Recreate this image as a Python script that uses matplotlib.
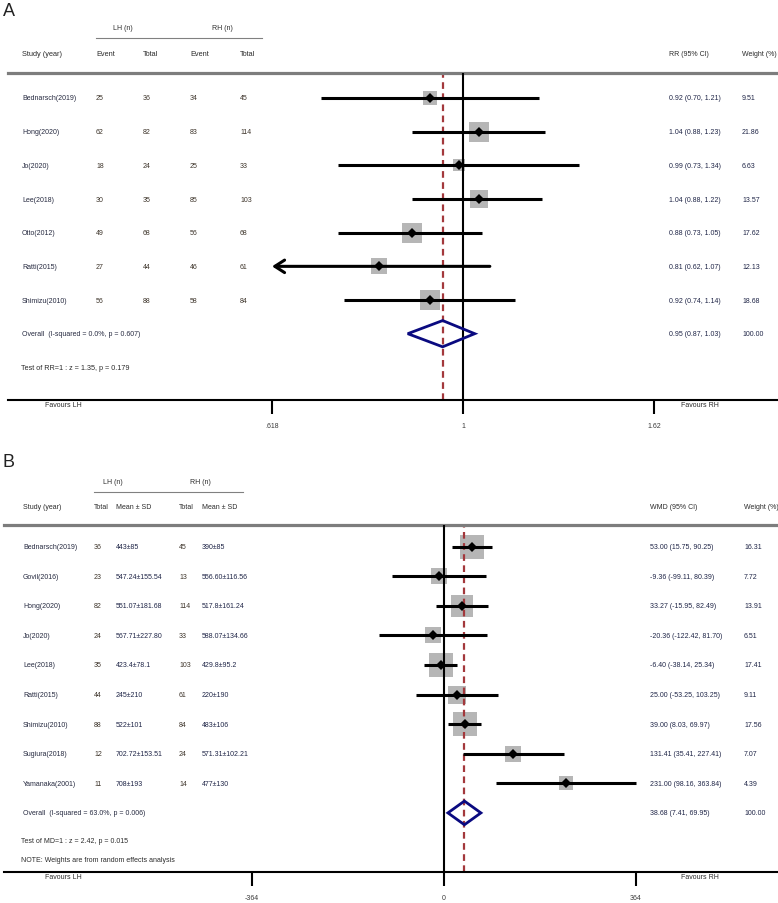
import matplotlib
matplotlib.use('Agg')
import matplotlib.pyplot as plt
import matplotlib.transforms as mtransforms
from matplotlib.patches import Polygon
from matplotlib.lines import Line2D
from matplotlib.ticker import NullLocator
import numpy as np

# ---------------- data: panel A ----------------
studies_a = ['Bednarsch(2019)', 'Hong(2020)', 'Jo(2020)', 'Lee(2018)',
             'Otto(2012)', 'Ratti(2015)', 'Shimizu(2010)']
lh_event_a = [25, 62, 18, 30, 49, 27, 56]
lh_total_a = [36, 82, 24, 35, 68, 44, 88]
rh_event_a = [34, 83, 25, 85, 56, 46, 58]
rh_total_a = [45, 114, 33, 103, 68, 61, 84]
rr_a = [0.92, 1.04, 0.99, 1.04, 0.88, 0.81, 0.92]
rr_lo_a = [0.70, 0.88, 0.73, 0.88, 0.73, 0.62, 0.74]
rr_hi_a = [1.21, 1.23, 1.34, 1.22, 1.05, 1.07, 1.14]
weight_a = [9.51, 21.86, 6.63, 13.57, 17.62, 12.13, 18.68]
overall_a = [0.95, 0.87, 1.03]
ticks_a = [0.618, 1, 1.62]
tick_labels_a = ['.618', '1', '1.62']
overall_text_a = 'Overall  (I-squared = 0.0%, p = 0.607)'
test_text_a = 'Test of RR=1 : z = 1.35, p = 0.179'

# ---------------- data: panel B ----------------
studies_b = ['Bednarsch(2019)', 'Govil(2016)', 'Hong(2020)', 'Jo(2020)', 'Lee(2018)',
             'Ratti(2015)', 'Shimizu(2010)', 'Sugiura(2018)', 'Yamanaka(2001)']
lh_total_b = [36, 23, 82, 24, 35, 44, 88, 12, 11]
lh_meansd_b = ['443±85', '547.24±155.54', '551.07±181.68', '567.71±227.80', '423.4±78.1',
               '245±210', '522±101', '702.72±153.51', '708±193']
rh_total_b = [45, 13, 114, 33, 103, 61, 84, 24, 14]
rh_meansd_b = ['390±85', '556.60±116.56', '517.8±161.24', '588.07±134.66', '429.8±95.2',
               '220±190', '483±106', '571.31±102.21', '477±130']
wmd_b = [53.00, -9.36, 33.27, -20.36, -6.40, 25.00, 39.00, 131.41, 231.00]
wmd_lo_b = [15.75, -99.11, -15.95, -122.42, -38.14, -53.25, 8.03, 35.41, 98.16]
wmd_hi_b = [90.25, 80.39, 82.49, 81.70, 25.34, 103.25, 69.97, 227.41, 363.84]
weight_b = [16.31, 7.72, 13.91, 6.51, 17.41, 9.11, 17.56, 7.07, 4.39]
overall_b = [38.68, 7.41, 69.95]
ticks_b = [-364, 0, 364]
tick_labels_b = ['-364', '0', '364']
overall_text_b = 'Overall  (I-squared = 63.0%, p = 0.006)'
test_text_b = 'Test of MD=1 : z = 2.42, p = 0.015'
note_text_b = 'NOTE: Weights are from random effects analysis'

# ---------------- figure helpers ----------------
W, H = 778, 904
fig = plt.figure(figsize=(W / 100, H / 100), dpi=100)

REG = ['Liberation Sans', 'DejaVu Sans']
NAR = ['Liberation Sans Narrow', 'Liberation Sans', 'DejaVu Sans']
C_TXT = '#2b2b2b'
C_NAME = '#262a40'
C_NUM = '#3d342a'
C_CI = '#1f2547'
GRAY_BOX = '#b6b6b6'
NAVY = '#0a0a80'
RED = '#a3383c'


def fx(px):
    return px / W


def fy(py):
    return 1 - py / H


def ftext(x, y, s, size=5.0, fam=REG, color=C_TXT, ha='left', va='center'):
    fig.text(fx(x), fy(y), s, fontsize=size, family=fam, color=color, ha=ha, va=va)


def make_axes(left, right, top, bottom):
    return fig.add_axes([fx(left), fy(bottom), fx(right - left), (bottom - top) / H])


def style_axes(ax, ticks, labels):
    ax.spines['left'].set_visible(False)
    ax.spines['right'].set_visible(False)
    ax.spines['top'].set_color('#7d7d7d')
    ax.spines['top'].set_linewidth(2.3)
    ax.spines['bottom'].set_color('black')
    ax.spines['bottom'].set_linewidth(1.5)
    ax.set_yticks([])
    ax.set_xticks(ticks, labels=labels)
    ax.xaxis.set_minor_locator(NullLocator())
    ax.tick_params(axis='x', length=10, width=1.5, pad=6, labelsize=5,
                   labelcolor='#3a3a3a', direction='out')
    for t in ax.get_xticklabels():
        t.set_family(REG)
    ax.patch.set_alpha(0)


# ======================= PANEL A =======================
axA = make_axes(8, 778, 74, 401)
axA.set_xscale('log')
# 1 -> px 463, 396.8 px per ln unit
axA.set_xlim(np.exp((8 - 463) / 396.8), np.exp((778 - 463) / 396.8))
row0, step = 99, 33.67
axA.set_ylim((401 - row0) / step, (74 - row0) / step)
style_axes(axA, ticks_a, tick_labels_a)

axA.axvline(1, color='black', lw=1.5, zorder=2.6)
axA.axvline(overall_a[0], color=RED, lw=1.6, ls=(0, (3, 2)), zorder=2.5)

xmin_tick = min(ticks_a)
for i in range(len(studies_a)):
    side_px = 3.2 + 3.8 * np.sqrt(weight_a[i])
    axA.scatter([rr_a[i]], [i], s=(side_px * 0.72) ** 2, marker='s', color=GRAY_BOX,
                linewidths=0, zorder=2)
    if rr_lo_a[i] < xmin_tick + 0.005:
        axA.annotate('', xy=(xmin_tick, i), xytext=(rr_hi_a[i], i),
                     arrowprops=dict(arrowstyle='->,head_length=0.7,head_width=0.45',
                                     lw=2.2, color='black', shrinkA=0, shrinkB=0),
                     zorder=3)
    else:
        axA.plot([rr_lo_a[i], rr_hi_a[i]], [i, i], color='black', lw=2.2,
                 solid_capstyle='butt', zorder=3)
    axA.plot([rr_a[i]], [i], marker='D', ms=4.6, color='black', mew=0, zorder=4)

yo = len(studies_a)
est, lo, hi = overall_a
axA.add_patch(Polygon([(lo, yo), (est, yo - 0.39), (hi, yo), (est, yo + 0.39)],
                      closed=True, facecolor='none', edgecolor=NAVY, lw=2.0, zorder=3))

trA = mtransforms.blended_transform_factory(fig.transFigure, axA.transData)
for i in range(len(studies_a)):
    axA.text(fx(22), i, studies_a[i], transform=trA, fontsize=5, family=REG,
             color=C_NAME, va='center')
    for xp, v in zip([96, 143, 190, 240],
                     [lh_event_a[i], lh_total_a[i], rh_event_a[i], rh_total_a[i]]):
        axA.text(fx(xp), i, str(v), transform=trA, fontsize=5, family=REG,
                 color=C_NUM, va='center')
    axA.text(fx(669), i, f'{rr_a[i]:.2f} ({rr_lo_a[i]:.2f}, {rr_hi_a[i]:.2f})',
             transform=trA, fontsize=5, family=REG, color=C_CI, va='center')
    axA.text(fx(742), i, f'{weight_a[i]:.2f}', transform=trA, fontsize=5, family=REG,
             color=C_CI, va='center')
axA.text(fx(22), yo, overall_text_a, transform=trA, fontsize=5, family=REG,
         color=C_NAME, va='center')
axA.text(fx(669), yo, f'{overall_a[0]:.2f} ({overall_a[1]:.2f}, {overall_a[2]:.2f})',
         transform=trA, fontsize=5, family=REG, color=C_CI, va='center')
axA.text(fx(742), yo, f'{sum(weight_a):.2f}', transform=trA, fontsize=5, family=REG,
         color=C_CI, va='center')

# headers A
ftext(3, 12, 'A', size=13, color='#222222')
ftext(123, 28, 'LH (n)', size=5, fam=NAR, ha='center')
ftext(222, 28, 'RH (n)', size=5, fam=NAR, ha='center')
fig.add_artist(Line2D([fx(96), fx(262)], [fy(39), fy(39)], color='#808080', lw=0.8))
ftext(22, 55, 'Study (year)', size=5.3, fam=NAR)
ftext(96, 55, 'Event', size=5.3, fam=NAR)
ftext(143, 55, 'Total', size=5.3, fam=NAR)
ftext(190, 55, 'Event', size=5.3, fam=NAR)
ftext(240, 55, 'Total', size=5.3, fam=NAR)
ftext(669, 55, 'RR (95% CI)', size=5, fam=NAR)
ftext(742, 55, 'Weight (%)', size=5, fam=NAR)
ftext(21, 369, test_text_a, size=5.2, fam=NAR)
ftext(63, 406, 'Favours LH', size=5, fam=NAR, ha='center')
ftext(700, 406, 'Favours RH', size=5, fam=NAR, ha='center')

# ======================= PANEL B =======================
axB = make_axes(4, 778, 525.5, 873)
zero_px, ppu = 444, 0.5275
axB.set_xlim((4 - zero_px) / ppu, (778 - zero_px) / ppu)
row0b, stepb = 547.5, 29.6
axB.set_ylim((873 - row0b) / stepb, (525.5 - row0b) / stepb)
style_axes(axB, ticks_b, tick_labels_b)

axB.axvline(0, color='black', lw=1.5, zorder=2.6)
axB.axvline(overall_b[0], color=RED, lw=1.6, ls=(0, (3, 2)), zorder=2.5)

for i in range(len(studies_b)):
    side_px = 3.0 + 5.0 * np.sqrt(weight_b[i])
    axB.scatter([wmd_b[i]], [i], s=(side_px * 0.72) ** 2, marker='s', color=GRAY_BOX,
                linewidths=0, zorder=2)
    axB.plot([wmd_lo_b[i], wmd_hi_b[i]], [i, i], color='black', lw=2.2,
             solid_capstyle='butt', zorder=3)
    axB.plot([wmd_b[i]], [i], marker='D', ms=4.6, color='black', mew=0, zorder=4)

yob = len(studies_b)
est, lo, hi = overall_b
axB.add_patch(Polygon([(lo, yob), (est, yob - 0.40), (hi, yob), (est, yob + 0.40)],
                      closed=True, facecolor='none', edgecolor=NAVY, lw=2.0, zorder=3))

trB = mtransforms.blended_transform_factory(fig.transFigure, axB.transData)
for i in range(len(studies_b)):
    axB.text(fx(23), i, studies_b[i], transform=trB, fontsize=5, family=REG,
             color=C_NAME, va='center')
    axB.text(fx(94), i, str(lh_total_b[i]), transform=trB, fontsize=5, family=REG,
             color=C_NUM, va='center')
    axB.text(fx(116), i, lh_meansd_b[i], transform=trB, fontsize=5, family=REG,
             color=C_CI, va='center')
    axB.text(fx(179), i, str(rh_total_b[i]), transform=trB, fontsize=5, family=REG,
             color=C_NUM, va='center')
    axB.text(fx(202), i, rh_meansd_b[i], transform=trB, fontsize=5, family=REG,
             color=C_CI, va='center')
    axB.text(fx(650), i, f'{wmd_b[i]:.2f} ({wmd_lo_b[i]:.2f}, {wmd_hi_b[i]:.2f})',
             transform=trB, fontsize=5, family=REG, color=C_CI, va='center')
    axB.text(fx(744), i, f'{weight_b[i]:.2f}', transform=trB, fontsize=5, family=REG,
             color=C_CI, va='center')
axB.text(fx(23), yob, overall_text_b, transform=trB, fontsize=5, family=REG,
         color=C_NAME, va='center')
axB.text(fx(650), yob, f'{overall_b[0]:.2f} ({overall_b[1]:.2f}, {overall_b[2]:.2f})',
         transform=trB, fontsize=5, family=REG, color=C_CI, va='center')
axB.text(fx(744), yob, '100.00', transform=trB, fontsize=5, family=REG,
         color=C_CI, va='center')

ftext(3, 463, 'B', size=13, color='#222222')
ftext(103, 483, 'LH (n)', size=5)
ftext(190, 483, 'RH (n)', size=5)
fig.add_artist(Line2D([fx(94), fx(243)], [fy(493), fy(493)], color='#808080', lw=0.8))
ftext(23, 508, 'Study (year)', size=5)
ftext(94, 508, 'Total', size=5)
ftext(116, 508, 'Mean ± SD', size=5)
ftext(179, 508, 'Total', size=5)
ftext(202, 508, 'Mean ± SD', size=5)
ftext(650, 508, 'WMD (95% CI)', size=5)
ftext(744, 508, 'Weight (%)', size=5)
ftext(21, 842, test_text_b, size=5, fam=NAR)
ftext(21, 861, note_text_b, size=5, fam=NAR)
ftext(63, 878, 'Favours LH', size=5, fam=NAR, ha='center')
ftext(700, 878, 'Favours RH', size=5, fam=NAR, ha='center')

fig.savefig('out.png', dpi=100)
